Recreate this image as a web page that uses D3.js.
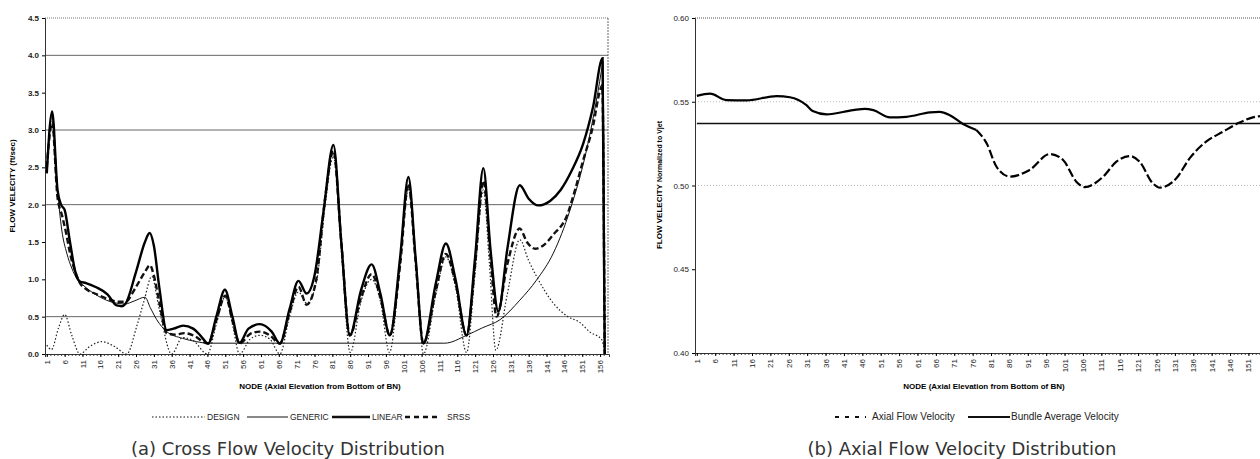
<!DOCTYPE html>
<html>
<head>
<meta charset="utf-8">
<script src="https://cdn.jsdelivr.net/npm/d3@7"></script>
<style>
  body { margin: 0; background: #fff; }
  text { font-family: "Liberation Sans", Arial, sans-serif; }
</style>
</head>
<body>
<div id="chart"></div>
<script>
// ---- data: [node, value] ----
const designPts = [[1,0.12],[2.3,0.06],[4.3,0.35],[6,0.53],[8,0.25],[10.3,0.0],[13,0.1],[16.5,0.165],[20,0.1],[23.4,0.0],[26.2,0.37],[28.3,0.72],[30.4,1.04],[32.5,0.6],[36,0.0],[39,0.22],[42,0.18],[46,0.0],[48.5,0.4],[51,0.77],[53,0.4],[55,0.0],[58,0.2],[60.7,0.25],[63.5,0.2],[66.3,0.0],[69,0.5],[71.5,0.83],[73.8,0.68],[76.5,0.95],[79,2.0],[81.3,2.65],[83.5,1.4],[86,0.02],[89,0.7],[92,1.0],[94.5,0.7],[97,0.02],[100,1.2],[102.3,2.2],[104.5,1.2],[106.5,0.0],[110,0.8],[112.8,1.3],[115.5,0.9],[118.6,0.02],[121,1.1],[123.3,2.2],[125,1.2],[126.8,0.05],[130,0.8],[133.5,1.53],[136,1.25],[138.2,1.04],[142.9,0.68],[147,0.5],[150.4,0.42],[153,0.3],[156.5,0.19],[157.3,0.0]];
const genericPts = [[1,2.45],[2.5,3.2],[4,2.2],[5.2,1.66],[6.6,1.35],[8,1.15],[9.5,1.0],[11,0.93],[13,0.85],[16,0.76],[19.6,0.69],[22.9,0.67],[25.5,0.71],[28.5,0.76],[30,0.62],[31.8,0.46],[34.6,0.3],[39,0.21],[43,0.165],[46,0.145],[112.5,0.145],[118.6,0.25],[123,0.35],[128,0.46],[133.5,0.72],[138.2,0.99],[142.9,1.35],[147.6,1.93],[152.2,2.73],[156.4,3.8],[156.8,3.92],[157.3,0.0]];
const linearPts = [[1,2.42],[2.5,3.25],[4,2.2],[5,2.0],[6,1.93],[7.5,1.5],[9,1.1],[10.3,0.97],[12,0.95],[15,0.89],[18,0.8],[20.6,0.65],[22,0.64],[23,0.67],[26,1.1],[28.5,1.5],[29.8,1.62],[31,1.45],[32.5,0.9],[34.6,0.32],[36.5,0.34],[39.2,0.38],[42,0.34],[44,0.25],[46.2,0.14],[48.5,0.5],[50.9,0.86],[53,0.5],[55,0.15],[57.5,0.34],[60.7,0.4],[64,0.3],[66.3,0.14],[69,0.6],[71.5,0.98],[73.8,0.81],[76,1.05],[78.5,1.9],[81.3,2.8],[83.5,1.5],[85.9,0.25],[89,0.85],[92,1.2],[94.5,0.8],[97.1,0.25],[100,1.3],[102.3,2.37],[104.3,1.3],[106.5,0.14],[110,0.95],[112.8,1.48],[115.5,1.0],[118.6,0.25],[121,1.3],[123.3,2.49],[125.3,1.4],[127.5,0.57],[130,1.4],[133.5,2.26],[136,2.08],[138.7,1.99],[142,2.05],[145,2.2],[148,2.45],[151.3,2.82],[154,3.3],[156.7,3.96],[157.3,0.0]];
const srssPts = [[1,2.5],[2.5,3.1],[4,2.1],[5.3,1.85],[6.5,1.6],[7.5,1.35],[9,1.1],[10.3,0.95],[12,0.87],[15,0.8],[18,0.74],[21,0.7],[23,0.7],[26,0.9],[28.5,1.1],[29.9,1.19],[31,1.05],[32.5,0.7],[34.6,0.28],[37,0.26],[39.5,0.28],[42,0.25],[46.2,0.14],[48.5,0.45],[51,0.78],[53,0.45],[55,0.14],[58,0.27],[60.7,0.3],[63.5,0.25],[66.3,0.14],[69,0.55],[71.5,0.9],[73.8,0.66],[76.5,1.0],[79,2.1],[81.3,2.72],[83.5,1.5],[85.9,0.25],[89,0.75],[92,1.07],[94.5,0.75],[97.1,0.25],[100,1.2],[102.3,2.28],[104.3,1.25],[106.5,0.14],[110,0.85],[112.8,1.34],[115.5,0.95],[118.6,0.25],[121,1.2],[123.3,2.32],[125.3,1.3],[127,0.5],[130,1.2],[133.5,1.68],[135.5,1.5],[137.8,1.41],[140,1.45],[142.9,1.6],[146.6,1.84],[149,2.2],[151.3,2.6],[154,3.05],[156,3.53],[156.6,3.6],[157.3,0.0]];

const axialPts = [[1,0.5535],[4.6,0.5548],[9,0.551],[14.5,0.5508],[22.7,0.5534],[26.3,0.5527],[30.8,0.548],[32.5,0.5445],[36.3,0.5425],[43.5,0.545],[46.7,0.5458],[49,0.545],[53.5,0.5407],[58,0.541],[64.4,0.5437],[67,0.544],[69.8,0.542],[73.4,0.5367],[77,0.5331],[79.8,0.5252],[82.5,0.5112],[86.1,0.5053],[91.5,0.5093],[97,0.5188],[100.6,0.5152],[104.2,0.5023],[106.5,0.499],[111.5,0.5053],[115.1,0.5142],[118.7,0.5176],[121.4,0.5142],[125,0.5013],[126.9,0.4987],[131.4,0.5043],[135,0.5162],[139.5,0.5262],[144.1,0.5321],[148.1,0.5371],[152.2,0.5407],[157,0.542]];
const bundlePts = [[1,0.537],[158,0.537]];

const leftTicks = [1,6,11,16,21,26,31,36,41,46,51,56,61,66,71,76,81,86,91,96,101,106,111,116,121,126,131,136,141,146,151,156];
const rightTicks = [1,6,11,16,21,26,31,36,41,46,51,56,61,66,71,76,81,86,91,96,101,106,111,116,121,126,131,136,141,146,151];
const leftYTicks = [0,0.5,1,1.5,2,2.5,3,3.5,4,4.5];
const leftGrid = [0.5,2,3,4];
const rightYTicks = [0.40,0.45,0.50,0.55,0.60];
const rightGrid = [0.50,0.55];

const svg = d3.select("#chart").append("svg")
  .attr("width", 1260)
  .attr("height", 459)
  .style("background", "#fff");

function xAxis(g, x, labels, y0) {
  // minor ticks on every node
  g.append("g")
    .attr("transform", "translate(0," + y0 + ")")
    .call(d3.axisBottom(x).tickValues(d3.range(1, 158)).tickSize(2).tickFormat(""))
    .call(a => a.select(".domain").remove())
    .selectAll("line").attr("stroke", "#444");
  const ax = g.append("g")
    .attr("transform", "translate(0," + y0 + ")")
    .call(d3.axisBottom(x).tickValues(labels).tickSize(3));
  ax.select(".domain").attr("stroke", "#333");
  ax.selectAll("text")
    .attr("transform", "rotate(-90)")
    .attr("x", -6).attr("y", 0).attr("dy", "0.32em")
    .style("text-anchor", "end")
    .style("font-size", "8px")
    .attr("fill", "#222");
}

// ================= (a) Cross flow =================
const xL = d3.scaleLinear().domain([0.5, 158.5]).range([45, 609]);
const yL = d3.scaleLinear().domain([0, 4.5]).range([354, 18]);
const gL = svg.append("g");

gL.selectAll(".grid").data(leftGrid).enter().append("line")
  .attr("x1", 45).attr("x2", 608)
  .attr("y1", d => yL(d)).attr("y2", d => yL(d))
  .attr("stroke", "#666").attr("stroke-width", 1);
gL.append("line").attr("x1", 45).attr("x2", 608).attr("y1", yL(4.5)).attr("y2", yL(4.5))
  .attr("stroke", "#777").attr("stroke-dasharray", "1,1");
gL.append("line").attr("x1", 608).attr("x2", 608).attr("y1", 18).attr("y2", 354)
  .attr("stroke", "#666").attr("stroke-dasharray", "2,1");

const yAxL = gL.append("g").attr("transform", "translate(45,0)")
  .call(d3.axisLeft(yL).tickValues(leftYTicks).tickSize(3).tickFormat(d3.format(".1f")));
yAxL.select(".domain").attr("stroke", "#333");
yAxL.selectAll("text").style("font-size", "8px").style("font-weight", "bold").attr("fill", "#222");
xAxis(gL, xL, leftTicks, 354);

const lineL = d3.line().x(d => xL(d[0])).y(d => yL(d[1])).curve(d3.curveMonotoneX);
gL.append("path").datum(genericPts).attr("d", lineL)
  .attr("fill", "none").attr("stroke", "#111").attr("stroke-width", 1);
gL.append("path").datum(designPts).attr("d", lineL)
  .attr("fill", "none").attr("stroke", "#222").attr("stroke-width", 1.2).attr("stroke-dasharray", "1.5,2");
gL.append("path").datum(srssPts).attr("d", lineL)
  .attr("fill", "none").attr("stroke", "#111").attr("stroke-width", 2.4).attr("stroke-dasharray", "6,3");
gL.append("path").datum(linearPts).attr("d", lineL)
  .attr("fill", "none").attr("stroke", "#000").attr("stroke-width", 2.4);

gL.append("text").attr("transform", "translate(15,186) rotate(-90)")
  .attr("text-anchor", "middle").style("font-size", "8px").style("font-weight", "bold")
  .text("FLOW VELECITY (ft/sec)");
gL.append("text").attr("x", 320).attr("y", 389)
  .attr("text-anchor", "middle").style("font-size", "8px").style("font-weight", "bold")
  .text("NODE (Axial Elevation from Bottom of BN)");

// legend (a)
const legL = [
  {name: "DESIGN", x0: 152, x1: 205, w: 1.2, dash: "1.5,2"},
  {name: "GENERIC", x0: 247, x1: 288, w: 1, dash: null},
  {name: "LINEAR", x0: 332, x1: 370, w: 2.4, dash: null},
  {name: "SRSS", x0: 405, x1: 440, w: 2.4, dash: "5,4"}
];
legL.forEach(function(d) {
  gL.append("line").attr("x1", d.x0).attr("x2", d.x1).attr("y1", 417).attr("y2", 417)
    .attr("stroke", "#111").attr("stroke-width", d.w).attr("stroke-dasharray", d.dash);
  gL.append("text").attr("x", d.x1 + (d.name === "SRSS" ? 7 : 2)).attr("y", 420)
    .style("font-size", "8.5px").attr("fill", "#222").text(d.name);
});

gL.append("text").attr("x", 288).attr("y", 455).attr("text-anchor", "middle")
  .style("font-family", "'DejaVu Sans', sans-serif").style("font-size", "18px")
  .attr("fill", "#333")
  .text("(a) Cross Flow Velocity Distribution");

// ================= (b) Axial flow =================
const xR = d3.scaleLinear().domain([0.5, 158.5]).range([695, 1276]);
const yR = d3.scaleLinear().domain([0.40, 0.60]).range([353, 18]);
const gR = svg.append("g");

gR.append("line").attr("x1", 695).attr("x2", 1260).attr("y1", yR(0.60)).attr("y2", yR(0.60))
  .attr("stroke", "#555").attr("stroke-dasharray", "1,1");
gR.selectAll(".grid").data(rightGrid).enter().append("line")
  .attr("x1", 695).attr("x2", 1260)
  .attr("y1", d => yR(d)).attr("y2", d => yR(d))
  .attr("stroke", "#bbb").attr("stroke-dasharray", "1,2");

const yAxR = gR.append("g").attr("transform", "translate(695,0)")
  .call(d3.axisLeft(yR).tickValues(rightYTicks).tickSize(3).tickFormat(d3.format(".2f")));
yAxR.select(".domain").attr("stroke", "#333");
yAxR.selectAll("text").style("font-size", "8px").attr("fill", "#222");
xAxis(gR, xR, rightTicks, 353);

const lineR = d3.line().x(d => xR(d[0])).y(d => yR(d[1])).curve(d3.curveMonotoneX);
gR.append("path").datum(bundlePts).attr("d", lineR)
  .attr("fill", "none").attr("stroke", "#111").attr("stroke-width", 1.6);
// the flat stretch prints as solid in the scan, the dip as dashes
gR.append("path").datum(axialPts.filter(d => d[0] <= 77)).attr("d", lineR)
  .attr("fill", "none").attr("stroke", "#000").attr("stroke-width", 2.2);
gR.append("path").datum(axialPts.filter(d => d[0] >= 77)).attr("d", lineR)
  .attr("fill", "none").attr("stroke", "#000").attr("stroke-width", 2.2).attr("stroke-dasharray", "9,3");

const yTitle = gR.append("text").attr("transform", "translate(662,185) rotate(-90)")
  .attr("text-anchor", "middle").style("font-weight", "bold");
yTitle.append("tspan").style("font-size", "8px").text("FLOW VELECITY ");
yTitle.append("tspan").style("font-size", "7px").text("Normalized to Vjet");
gR.append("text").attr("x", 984).attr("y", 389)
  .attr("text-anchor", "middle").style("font-size", "8px").style("font-weight", "bold")
  .text("NODE (Axial Elevation from Bottom of BN)");

gR.append("line").attr("x1", 835).attr("x2", 866).attr("y1", 417).attr("y2", 417)
  .attr("stroke", "#111").attr("stroke-width", 2).attr("stroke-dasharray", "4,6");
gR.append("text").attr("x", 872).attr("y", 420).style("font-size", "10px").attr("fill", "#222")
  .text("Axial Flow Velocity");
gR.append("line").attr("x1", 968).attr("x2", 1010).attr("y1", 417).attr("y2", 417)
  .attr("stroke", "#111").attr("stroke-width", 1.8);
gR.append("text").attr("x", 1011).attr("y", 420).style("font-size", "10px").attr("fill", "#222")
  .text("Bundle Average Velocity");

gR.append("text").attr("x", 962).attr("y", 455).attr("text-anchor", "middle")
  .style("font-family", "'DejaVu Sans', sans-serif").style("font-size", "18px")
  .attr("fill", "#333")
  .text("(b) Axial Flow Velocity Distribution");
</script>
</body>
</html>
